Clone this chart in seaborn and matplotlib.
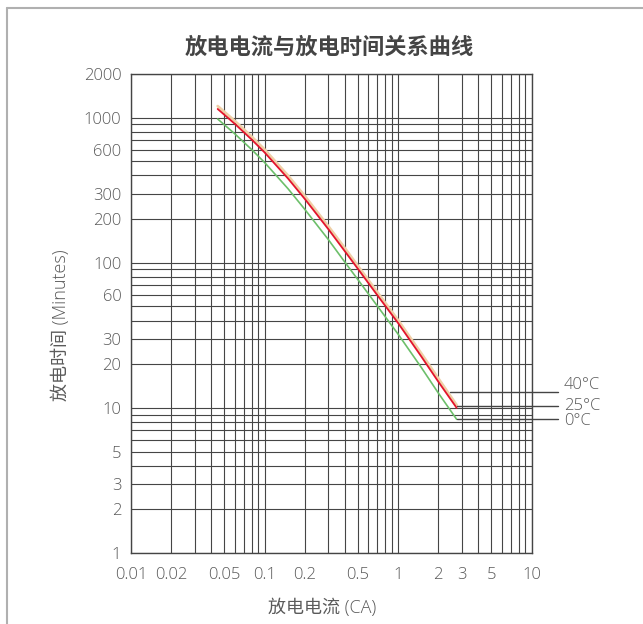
import numpy as np
import pandas as pd
import matplotlib
matplotlib.use("Agg")
import matplotlib.pyplot as plt
from matplotlib.lines import Line2D
from matplotlib.ticker import FixedLocator, FuncFormatter, NullLocator
import seaborn as sns

# ---- data ----
current_ca = [0.0446, 0.06, 0.08, 0.1, 0.15, 0.2, 0.3, 0.4, 0.5, 0.7, 1.0, 1.5, 2.0, 2.75]
time_40c = [1202, 948, 741, 604, 399, 289, 179, 126, 95.3, 62.7, 40.3, 23.6, 16.0, 10.45]
time_25c = [1148, 906, 708, 577, 381, 276, 171, 120, 91.0, 59.8, 38.5, 22.5, 15.2, 10.0]
time_0c = [979, 773, 604, 492, 324, 234, 145, 101, 76.7, 50.4, 32.3, 18.9, 12.7, 8.34]

series_names = ["40°C", "25°C", "0°C"]
series_colors = ["#efcfa6", "#e3142c", "#6cbf6a"]
series_widths = [2.0, 1.3, 1.2]

leader_y = [12.8, 10.3, 8.35]
leader_x_start = [2.45, 2.77, 2.77]
leader_x_end = 15.8
label_x = 17.5
label_y = [14.4, 10.3, 8.1]

x_tick_labels = [0.01, 0.02, 0.05, 0.1, 0.2, 0.5, 1, 2, 3, 5, 10]
y_tick_labels = [1, 2, 3, 5, 10, 20, 30, 60, 100, 200, 300, 600, 1000, 2000]

title = "放电电流与放电时间关系曲线"
xlabel = "放电电流 (CA)"
ylabel = "放电时间 (Minutes)"

# ---- build dataframe ----
df = pd.concat([
    pd.DataFrame({"current": current_ca, "time": time_40c, "temp": "40°C"}),
    pd.DataFrame({"current": current_ca, "time": time_25c, "temp": "25°C"}),
    pd.DataFrame({"current": current_ca, "time": time_0c, "temp": "0°C"}),
], ignore_index=True)

sns.set_theme(style="white")
plt.rcParams["font.family"] = ["Open Sans", "Noto Sans CJK SC", "DejaVu Sans"]
plt.rcParams["axes.unicode_minus"] = False

fig = plt.figure(figsize=(6.43, 6.24), dpi=100)
ax = fig.add_axes([131 / 643, (624 - 553) / 624, 400.5 / 643, 479 / 624])

grid_col = "#454545"
txt_col = "#5a5a5a"

ax.set_xscale("log")
ax.set_yscale("log")
ax.set_xlim(0.01, 10)
ax.set_ylim(1, 2000)

# all grid positions (1..9 per decade)
xgrid = [m * 10.0 ** e for e in range(-2, 1) for m in range(1, 10)] + [10.0]
ygrid = [m * 10.0 ** e for e in range(0, 4) for m in range(1, 10) if m * 10.0 ** e <= 2000]
ax.xaxis.set_major_locator(FixedLocator(xgrid))
ax.yaxis.set_major_locator(FixedLocator(ygrid))
ax.xaxis.set_minor_locator(NullLocator())
ax.yaxis.set_minor_locator(NullLocator())


def fmt_factory(labels):
    def f(v, pos):
        for l in labels:
            if abs(v - l) / l < 1e-6:
                return ("%g" % l)
        return ""
    return f


ax.xaxis.set_major_formatter(FuncFormatter(fmt_factory(x_tick_labels)))
ax.yaxis.set_major_formatter(FuncFormatter(fmt_factory(y_tick_labels)))
ax.grid(True, which="major", color=grid_col, lw=0.8)
ax.set_axisbelow(True)
ax.tick_params(axis="both", length=0, labelsize=12, labelcolor=txt_col)
ax.tick_params(axis="x", pad=10)
ax.tick_params(axis="y", pad=7)
for lab in ax.get_xticklabels() + ax.get_yticklabels():
    lab.set_fontweight("light")
for sp in ax.spines.values():
    sp.set_color(grid_col)
    sp.set_linewidth(1.0)

sns.lineplot(data=df, x="current", y="time", hue="temp",
             hue_order=series_names, palette=dict(zip(series_names, series_colors)),
             linewidth=1.3, legend=False, ax=ax, sort=False)
for ln in ax.get_lines():
    c = matplotlib.colors.to_hex(ln.get_color())
    for i, sc in enumerate(series_colors):
        if c == sc:
            ln.set_linewidth(series_widths[i])
            ln.set_zorder(2 if i == 0 else 3)
            ln.set_solid_joinstyle("round")

# leader lines and labels
for i in range(len(series_names)):
    ax.plot([leader_x_start[i], leader_x_end], [leader_y[i], leader_y[i]],
            color="#444444", lw=1.0, clip_on=False, zorder=4)
    ax.text(label_x, label_y[i], series_names[i], ha="left", va="center",
            fontsize=12, color=txt_col, fontweight="light", clip_on=False)

ax.set_xlabel(xlabel, fontsize=13, color=txt_col, fontweight="light")
ax.set_ylabel(ylabel, fontsize=13, color=txt_col, fontweight="light")
ax.xaxis.set_label_coords(0.477, -0.095)
ax.yaxis.set_label_coords(-0.152, 0.476)

fig.text(329 / 643, 1 - 47 / 624, title, ha="center", va="center",
         fontsize=16, fontweight="bold", color="#444444",
         family=["Noto Sans CJK SC", "DejaVu Sans"])

# outer frame (left and top edges visible)
fig.add_artist(Line2D([7 / 643, 7 / 643], [0, 1 - 8 / 624], transform=fig.transFigure,
                      color="#b0b0b0", lw=1.5))
fig.add_artist(Line2D([7 / 643, 1], [1 - 8 / 624, 1 - 8 / 624], transform=fig.transFigure,
                      color="#b0b0b0", lw=1.5))

fig.savefig("out.png", dpi=100)
